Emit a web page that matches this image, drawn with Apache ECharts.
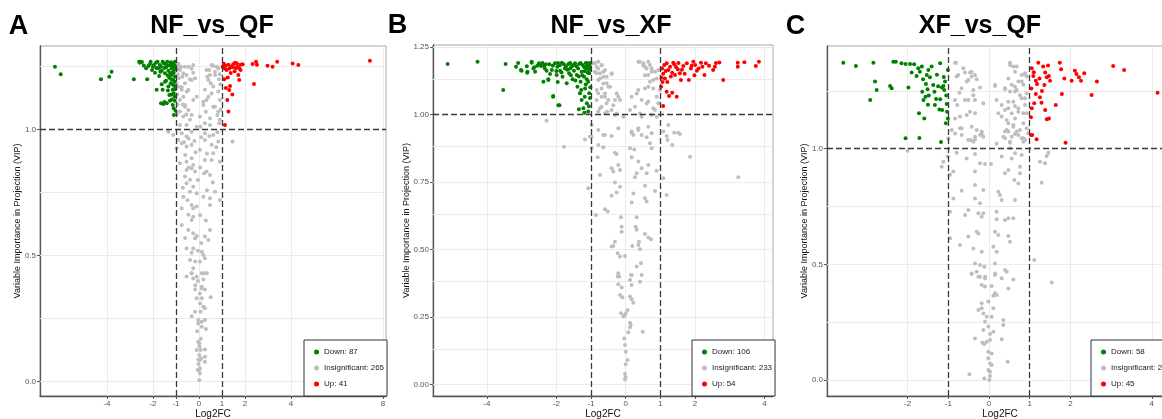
<!DOCTYPE html>
<html><head><meta charset="utf-8">
<script src="https://cdn.jsdelivr.net/npm/echarts@6/dist/echarts.min.js"></script>
<style>html,body{margin:0;padding:0;background:#fff}#c{width:1162px;height:419px}</style>
</head><body><div id="c"></div>
<script>
// ---------- DATA ----------
const titles = ['NF_vs_QF', 'NF_vs_XF', 'XF_vs_QF'];
const panelLetters = ['A', 'B', 'C'];
const downCounts = [87, 106, 58];
const insigCounts = [265, 233, 290];
const upCounts = [41, 54, 45];
const xAxisTitle = 'Log2FC';
const yAxisTitle = 'Variable Importance in Projection (VIP)';

const xTicksA = [-4, -2, -1, 0, 1, 2, 4, 8];
const xTicksB = [-4, -2, -1, 0, 1, 2, 4];
const xTicksC = [-2, -1, 0, 1, 2, 4];
const yTicksA = [0, 0.5, 1];
const yTicksB = [0, 0.25, 0.5, 0.75, 1, 1.25];
const yTicksC = [0, 0.5, 1];
const xGridA = [-4, -2, 0, 2, 4, 8];
const xGridB = [-4, -2, 0, 2, 4];
const xGridC = [-4, -2, 0, 2, 4];
const yGridA = [0, 0.25, 0.5, 0.75, 1.25];
const yGridB = [0, 0.125, 0.25, 0.375, 0.5, 0.625, 0.75, 0.875, 1.125, 1.25];
const yGridC = [0, 0.25, 0.5, 0.75, 1.25];
const fcThresholds = [-1, 1];
const vipThreshold = [1];

const downA = [[-6.26,1.25],[-6.01,1.22],[-4.26,1.20],[-3.90,1.21],[-3.80,1.23],[-2.83,1.20],[-2.60,1.27],[-2.55,1.27],
[-2.57,1.266],[-2.48,1.269],[-2.30,1.244],[-2.20,1.253],[-2.25,1.20],[-2.13,1.261],[-2.04,1.237],[-1.96,1.257],[-1.91,1.226],[-1.87,1.266],[-1.84,1.158],[-1.77,1.244],[-1.73,1.213],[-1.70,1.257],[-1.62,1.234],[-1.58,1.158],[-1.55,1.102],[-1.52,1.263],[-1.48,1.224],[-1.43,1.248],[-1.43,1.194],[-1.40,1.105],[-1.38,1.27],[-1.33,1.234],[-1.33,1.171],[-1.29,1.206],[-1.29,1.138],[-1.26,1.257],[-1.26,1.115],[-1.23,1.184],[-1.19,1.244],[-1.19,1.217],[-1.14,1.263],[-1.14,1.158],[-1.14,1.098],[-1.12,1.230],[-1.12,1.197],[-1.09,1.25],[-1.09,1.058],[-1.07,1.173],[-1.06,1.131],[-1.04,1.21],[-1.04,1.27],[-1.08,1.24],
[-2.40,1.255],[-2.10,1.27],[-1.80,1.27],[-1.65,1.25],[-1.58,1.27],[-1.45,1.262],[-1.35,1.255],[-1.22,1.268],[-1.17,1.25],[-1.05,1.255],[-1.02,1.24],[-1.10,1.225],[-1.25,1.225],[-1.50,1.245],[-1.68,1.23],[-1.85,1.245],[-2.0,1.25],[-1.36,1.215],[-1.20,1.20],[-1.05,1.19],[-1.16,1.18],[-1.03,1.16],[-1.10,1.145],[-1.20,1.14],[-1.35,1.155],[-1.48,1.19],[-1.62,1.18],[-1.05,1.115],[-1.18,1.12],[-1.50,1.11],[-1.65,1.105],[-1.10,1.085],[-1.02,1.075]];

const upA = [[1.03,1.25],[1.13,1.243],[1.20,1.237],[1.32,1.243],[1.39,1.25],[1.49,1.26],[1.57,1.266],[1.64,1.264],[1.67,1.25],[1.75,1.243],[1.81,1.237],[1.90,1.26],[1.71,1.217],[1.75,1.197],[1.25,1.207],[1.35,1.173],[1.32,1.157],[1.45,1.14],[1.23,1.118],[1.28,1.072],[1.13,1.019],
[1.08,1.262],[1.15,1.255],[1.28,1.258],[1.45,1.248],[1.60,1.245],[1.80,1.258],[1.55,1.232],[1.38,1.225],[1.10,1.20],[1.17,1.165],
[2.39,1.181],[2.33,1.261],[2.48,1.27],[2.98,1.254],[3.2,1.25],[3.4,1.27],[4.07,1.263],[4.32,1.257],[7.43,1.273],[2.52,1.258]];

const insigA = [
[-0.90,1.257],[-0.83,1.237],[-0.61,1.25],[-0.54,1.217],[-0.32,1.243],[-0.25,1.226],[-0.17,1.204],[-0.97,1.184],[-0.75,1.168],[-0.46,1.157],[-0.68,1.131],[-0.25,1.118],[-0.10,1.131],[-0.61,1.091],[-0.83,1.072],[-0.32,1.058],[0.04,1.052],[0.19,1.098],[0.33,1.118],[0.55,1.144],[0.62,1.171],[0.41,1.197],[0.48,1.217],[0.70,1.230],[0.77,1.25],[0.84,1.243],[0.62,1.253],[0.33,1.237],[0.70,1.091],[0.84,1.072],[0.91,1.039],[0.26,1.025],[0.48,1.019],[-0.10,1.012],[-0.54,1.019],
[-0.9,1.263],[-0.83,1.244],[-0.68,1.224],[-0.87,1.204],[-0.61,1.184],[-0.75,1.158],[-0.53,1.151],[-0.83,1.118],[-0.61,1.098],[-0.46,1.078],[-0.68,1.052],[-0.39,1.039],[-0.83,1.019],[-0.25,1.257],[-0.32,1.197],[0.55,1.257],[0.45,1.237],[0.36,1.21],[0.51,1.184],[0.26,1.158],[0.41,1.131],[0.19,1.111],[0.62,1.091],[0.30,1.071],[0.80,1.058],[0.48,1.045],[0.88,1.025],[0.07,1.012],[0.70,1.217],[0.84,1.151],[0.91,1.118],
[-0.95,1.24],[-0.92,1.22],[-0.88,1.17],[-0.95,1.14],[-0.93,1.10],[-0.96,1.06],[-0.72,1.21],[-0.78,1.25],[-0.70,1.10],[-0.55,1.06],[-0.40,1.20],[-0.45,1.25],[0.90,1.22],[0.93,1.18],[0.87,1.20],[0.95,1.08],
[-1.33,0.992],[-1.12,0.979],[-0.75,0.986],[-0.54,0.973],[-0.32,0.992],[0.26,0.986],[0.62,0.979],[-0.75,0.946],[-0.97,0.926],[-0.54,0.933],[-0.32,0.940],[0.04,0.920],[0.26,0.959],[0.55,0.940],[0.84,0.953],[1.46,0.953],[0.62,0.906],[0.55,0.880],[0.26,0.880],[-0.32,0.887],[-0.54,0.873],[-0.83,0.867],[-0.25,0.860],[-0.32,0.847],[-0.54,0.840],[-0.17,0.834],[0.33,0.834],[0.48,0.820],[0.22,0.827],[0.91,0.873],[-0.61,0.814],[-0.39,0.801],[-0.54,0.787],[-0.25,0.774],[-0.39,0.754],[-0.10,0.748],[0.70,0.754],[-0.68,0.734],[0.19,0.734],[0.48,0.728],[0.91,0.721],[-0.32,0.701],[-0.25,0.688],[-0.75,0.688],[-0.10,0.695],[0.48,0.701],[-0.46,0.662],[-0.25,0.655],[-0.32,0.642],[-0.75,0.622],[-0.46,0.602],[-0.25,0.589],[-0.10,0.578],[0.48,0.602],[-0.17,0.569],[0.26,0.576],[0.41,0.562],[-0.54,0.529],[-0.25,0.529],[-0.32,0.512],[0.12,0.516],[0.19,0.503],[0.26,0.490],[-0.39,0.483],[-0.17,0.477],[0.04,0.477],[-0.25,0.450],[-0.32,0.430],[0.19,0.430],[0.33,0.430],[-0.54,0.417],[-0.10,0.417],
[-0.90,0.96],[-0.65,0.95],[-0.45,0.965],[-0.20,0.955],[0.10,0.97],[0.45,0.975],[0.80,0.99],[-0.60,0.90],[-0.15,0.91],[0.35,0.905],[0.75,0.93],[-0.45,0.85],[0.05,0.85],[0.60,0.79],[-0.05,0.80],[-0.70,0.77],[0.35,0.76],[-0.50,0.72],[0.05,0.66],[0.30,0.64],[-0.60,0.57],[0.10,0.55],[-0.05,0.52],
[-0.25,0.410],[0.19,0.406],[-0.16,0.383],[0.12,0.377],[-0.17,0.366],[0.12,0.370],[0.26,0.366],[0.04,0.350],[-0.10,0.331],[0.12,0.331],[0.51,0.335],[0.19,0.297],[0.26,0.291],[0.07,0.278],[-0.17,0.278],[-0.32,0.26],[-0.03,0.245],[0.26,0.245],[0.12,0.238],[-0.03,0.231],[0.12,0.218],[0.30,0.209],[-0.03,0.159],[0.015,0.152],[0.07,0.126],[-0.10,0.126],[0.26,0.128],[0.015,0.106],[0.09,0.092],[-0.03,0.088],[0.26,0.099],[0.04,0.086],[0.26,0.079],[0.04,0.053],[-0.06,0.046],[0.0,0.044],[0.04,0.033],[0.015,0.006],
[-0.32,0.43],[0.12,0.43],[0.33,0.43],[-0.05,0.40],[0.05,0.31],[-0.08,0.20],[0.08,0.17],[0.02,0.14],[-0.02,0.07]];

const downB = [[-5.13,1.186],[-4.27,1.195],[-3.53,1.09],[-3.46,1.186],[-3.16,1.176],[-3.02,1.164],[-2.83,1.158],[-2.71,1.195],[-2.66,1.170],[-2.50,1.189],[-2.44,1.179],[-2.33,1.170],[-2.28,1.161],[-2.23,1.127],[-2.09,1.065],[-1.94,1.034],
[-3.0,1.161],[-2.84,1.154],[-2.71,1.191],[-2.64,1.174],[-2.61,1.158],[-2.49,1.186],[-2.37,1.121],[-2.35,1.179],[-2.23,1.13],[-2.18,1.149],[-2.13,1.164],[-2.09,1.068],[-2.04,1.189],[-1.99,1.146],[-1.97,1.176],[-1.91,1.034],[-1.89,1.161],[-1.84,1.191],[-1.82,1.139],[-1.75,1.170],[-1.70,1.115],[-1.65,1.186],[-1.63,1.152],[-1.56,1.176],[-1.53,1.13],[-1.49,1.161],[-1.46,1.189],[-1.41,1.146],[-1.39,1.102],[-1.37,1.170],[-1.34,1.186],[-1.32,1.078],[-1.30,1.121],[-1.27,1.158],[-1.27,1.053],[-1.24,1.183],[-1.22,1.022],[-1.20,1.139],[-1.17,1.096],[-1.14,1.170],[-1.12,1.041],[-1.10,1.189],[-1.08,1.121],[-1.08,1.010],[-1.05,1.152],[-1.05,1.078],[-1.03,1.176],
[-1.35,1.019],[-1.19,1.006],
[-2.55,1.18],[-2.40,1.19],[-2.20,1.185],[-2.10,1.18],[-1.95,1.19],[-1.90,1.182],[-1.78,1.185],[-1.72,1.178],[-1.60,1.19],[-1.52,1.182],[-1.42,1.178],[-1.30,1.19],[-1.20,1.175],[-1.15,1.19],[-1.06,1.185],[-1.02,1.19],[-1.04,1.165],[-1.10,1.155],[-1.18,1.16],[-1.25,1.145],[-1.35,1.14],[-1.45,1.125],[-1.58,1.145],[-1.68,1.165],[-1.85,1.155],[-2.0,1.16],[-1.12,1.13],[-1.02,1.10],[-1.15,1.11],[-1.03,1.06],[-1.18,1.065],[-1.06,1.03],[-1.28,1.09],[-1.60,1.17],[-2.30,1.185],[-2.85,1.178],[-3.10,1.19],[-1.96,1.12],[-1.08,1.17],[-1.12,1.18]];

const upB = [[1.11,1.183],[1.18,1.189],[1.23,1.164],[1.28,1.176],[1.34,1.154],[1.37,1.191],[1.42,1.146],[1.50,1.167],[1.56,1.152],[1.59,1.127],[1.66,1.179],[1.76,1.189],[1.82,1.127],[1.88,1.170],[1.95,1.195],[2.00,1.183],[2.05,1.161],[2.17,1.191],[2.21,1.176],[2.27,1.146],[2.31,1.189],[2.52,1.164],[2.57,1.176],[2.70,1.192],[2.81,1.127],[3.23,1.191],[3.23,1.176],[3.42,1.193],[3.75,1.179],[3.84,1.195],[1.02,1.102],[1.18,1.084],[1.25,1.068],[1.34,1.080],[1.47,1.065],[1.08,1.031],[1.13,1.133],[1.20,1.12],
[1.05,1.17],[1.08,1.15],[1.03,1.135],[1.15,1.16],[1.30,1.14],[1.45,1.175],[1.62,1.165],[1.70,1.15],[1.90,1.18],[2.10,1.17],[2.40,1.18],[2.60,1.19],[1.40,1.185],[1.06,1.12],[1.52,1.19],[1.98,1.145]];

const insigB = [
[-0.933,1.189],[-0.789,1.195],[-0.837,1.176],[-0.693,1.183],[-0.885,1.158],[-0.741,1.152],[-0.597,1.164],[-0.645,1.139],[-0.405,1.152],[-0.789,1.127],[-0.549,1.115],[-0.693,1.096],[-0.501,1.102],[-0.789,1.078],[-0.597,1.065],[-0.309,1.053],[-0.837,1.053],[-0.549,1.041],[-0.213,1.065],[-0.693,1.028],[-0.405,1.016],[-0.597,1.004],[-0.789,1.010],[-0.309,0.997],[0.364,1.195],[0.508,1.189],[0.652,1.195],[0.700,1.183],[0.556,1.176],[0.748,1.170],[0.844,1.158],[0.652,1.146],[0.892,1.133],[0.700,1.121],[0.364,1.090],[0.556,1.096],[0.171,1.065],[0.796,1.096],[0.460,1.053],[0.652,1.047],[0.940,1.041],[0.268,1.028],[0.844,1.016],[0.124,1.016],[0.748,0.997],[0.460,0.991],
[-0.885,1.189],[-0.789,1.170],[-0.692,1.182],[-0.837,1.152],[-0.644,1.158],[-0.740,1.133],[-0.548,1.139],[-0.404,1.149],[-0.644,1.114],[-0.452,1.102],[-0.837,1.090],[-0.596,1.077],[-0.692,1.065],[-0.260,1.077],[-0.500,1.053],[-0.164,1.053],[-0.356,1.034],[-0.740,1.022],[-0.529,1.010],[-0.260,1.003],[-0.068,0.991],[0.316,1.077],[0.400,1.195],[0.508,1.182],[0.604,1.170],[0.556,1.145],[0.748,1.158],[0.796,1.127],[0.652,1.102],[0.892,1.065],[0.604,1.040],[0.796,1.022],[0.412,1.003],[0.892,0.991],[0.989,1.090],[0.940,1.164],
[-1.173,0.907],[-0.981,0.917],[-0.597,0.923],[-0.405,0.920],[0.171,0.932],[0.220,0.923],[0.364,0.942],[0.604,0.915],[0.700,0.893],[0.748,0.874],[1.180,0.920],[1.209,0.905],[1.343,0.886],[1.401,0.932],[1.564,0.927],[1.853,0.843],[3.246,0.767],[-1.78,0.880],[-0.981,0.874],[-0.789,0.886],[-0.645,0.878],[-0.808,0.841],[-0.309,0.858],[-0.261,0.853],[0.124,0.874],[0.248,0.870],[0.171,0.841],[-0.741,0.775],[-0.405,0.800],[-0.357,0.788],[-0.213,0.812],[-0.164,0.794],[0.364,0.825],[0.460,0.800],[0.652,0.812],[0.316,0.782],[0.268,0.767],[0.604,0.782],[0.892,0.791],[1.084,0.763],[-1.077,0.726],[-0.309,0.747],[-0.164,0.732],[-0.405,0.698],[-0.261,0.710],[0.220,0.707],[0.171,0.673],[0.556,0.735],[0.844,0.716],[0.556,0.689],[0.604,0.677],[1.180,0.701],[-0.597,0.648],[-0.520,0.640],[-0.856,0.627],[-0.136,0.619],[-0.116,0.584],[-0.116,0.565],[0.316,0.619],[0.287,0.584],[0.316,0.572],[0.383,0.528],[0.556,0.557],[0.652,0.544],[0.729,0.537],[0.364,0.516],[0.191,0.512],[-0.309,0.528],[-0.357,0.512],[-0.405,0.510],[-0.232,0.485],[-0.164,0.473],[-0.020,0.475],[0.412,0.500],
[0.316,0.436],[0.441,0.448],[-0.184,0.399],[0.171,0.405],
[-2.28,0.976],[-0.98,0.960],[-0.789,0.942],[-0.213,0.948],[0.171,0.936],[0.364,0.948],[0.652,0.954],[0.748,0.930],[1.228,0.960],[1.516,0.932],[1.084,0.936],[-1.03,0.917],[-0.645,0.923],[0.460,0.923],
[-0.213,0.411],[-0.232,0.399],[0.153,0.405],[0.460,0.405],[0.124,0.386],[0.171,0.368],[-0.213,0.371],[-0.116,0.359],[0.412,0.380],[-0.164,0.331],[-0.097,0.322],[0.124,0.325],[0.171,0.315],[0.220,0.302],[0.056,0.275],[-0.136,0.263],[0.0,0.263],[-0.068,0.251],[-0.020,0.257],[0.124,0.228],[0.143,0.220],[0.124,0.211],[0.076,0.193],[0.489,0.195],[-0.040,0.170],[-0.020,0.146],[0.0,0.121],[0.056,0.090],[0.0,0.074],[-0.020,0.038],[0.0,0.026],[-0.020,0.018]];

const downC = [[-3.58,1.372],[-3.27,1.358],[-2.84,1.372],[-2.80,1.290],[-2.76,1.254],[-2.92,1.211],[-2.43,1.271],[-2.39,1.261],[-2.35,1.376],[-2.29,1.376],[-2.15,1.369],[-2.05,1.366],[-1.98,1.265],[-1.94,1.366],[-1.90,1.329],[-1.78,1.314],[-1.74,1.348],[-1.70,1.333],[-1.72,1.153],[-1.64,1.246],[-1.61,1.211],[-1.59,1.131],[-1.56,1.225],[-1.53,1.319],[-1.51,1.257],[-1.49,1.340],[-1.45,1.309],[-1.41,1.355],[-1.37,1.275],[-1.34,1.246],[-1.33,1.189],[-1.20,1.369],[-1.20,1.214],[-1.16,1.265],[-1.12,1.271],[-1.15,1.167],[-1.10,1.254],[-1.06,1.110],[-1.04,1.193],[-1.01,1.340],[-1.01,1.131],[-2.05,1.045],[-1.71,1.046],[-1.18,1.029],
[-1.84,1.365],[-1.62,1.30],[-1.55,1.28],[-1.48,1.23],[-1.25,1.27],[-1.08,1.29],[-1.05,1.23],[-1.30,1.215],[-1.03,1.16],[-1.22,1.17],[-1.65,1.355],[-1.28,1.32],[-1.11,1.31],[-1.50,1.19]];

const upC = [[1.21,1.372],[1.33,1.355],[1.05,1.348],[1.09,1.314],[1.15,1.294],[1.24,1.304],[1.38,1.329],[1.42,1.309],[1.47,1.314],[1.50,1.294],[1.36,1.275],[1.74,1.372],[1.77,1.343],[1.85,1.304],[2.03,1.294],[2.11,1.337],[2.15,1.323],[2.21,1.309],[2.26,1.294],[2.34,1.326],[2.65,1.290],[3.05,1.358],[3.32,1.340],[4.14,1.242],[1.79,1.237],[2.52,1.232],[1.64,1.189],[1.15,1.237],[1.25,1.222],[1.11,1.196],[1.29,1.199],[1.05,1.175],[1.38,1.167],[1.42,1.127],[1.47,1.131],[1.03,1.136],[1.03,1.059],[1.06,1.059],[1.17,1.041],[1.88,1.026],
[1.10,1.33],[1.18,1.28],[1.30,1.25],[1.04,1.26],[1.45,1.36]];

const insigC = [
[-0.835,1.372],[-0.631,1.348],[-0.426,1.333],[-0.344,1.319],[-0.795,1.312],[-0.508,1.297],[-0.672,1.261],[-0.385,1.254],[-0.221,1.265],[-0.835,1.211],[-0.590,1.211],[-0.139,1.196],[-0.344,1.211],[-0.549,1.146],[-0.344,1.153],[-0.835,1.131],[-0.672,1.088],[-0.426,1.095],[-0.344,1.052],[-0.180,1.074],[0.516,1.372],[0.598,1.355],[0.639,1.333],[0.803,1.319],[0.885,1.323],[0.475,1.304],[0.721,1.290],[0.557,1.276],[0.844,1.276],[0.147,1.271],[0.393,1.257],[0.639,1.247],[0.925,1.240],[0.803,1.218],[0.188,1.211],[0.475,1.203],[0.639,1.185],[0.885,1.189],[0.393,1.167],[0.721,1.160],[0.557,1.153],[0.925,1.153],[0.311,1.139],[0.639,1.131],[0.475,1.110],[0.844,1.110],[0.598,1.095],[0.762,1.081],[0.393,1.074],[0.966,1.067],[0.557,1.052],[0.844,1.045],
[-0.811,1.372],[-0.754,1.319],[-0.590,1.329],[-0.467,1.329],[-0.426,1.312],[-0.549,1.290],[-0.729,1.242],[-0.303,1.300],[-0.778,1.189],[-0.508,1.211],[-0.385,1.231],[-0.713,1.139],[-0.467,1.160],[-0.917,1.081],[-0.713,1.088],[-0.303,1.081],[-0.451,1.038],[-0.385,1.030],[-0.221,1.059],[-0.140,1.052],[0.516,1.362],[0.680,1.355],[0.884,1.326],[0.925,1.312],[0.802,1.290],[0.639,1.268],[0.147,1.275],[0.393,1.261],[0.516,1.247],[0.680,1.254],[0.761,1.231],[0.884,1.218],[0.311,1.189],[0.475,1.175],[0.598,1.203],[0.720,1.175],[0.843,1.153],[0.229,1.153],[0.434,1.124],[0.598,1.102],[0.925,1.088],[0.434,1.081],[0.680,1.074],[0.352,1.052],[0.884,1.038],[0.516,1.026],[0.720,1.059],
[-2.0,0.991],[-1.163,0.922],[-1.122,0.944],[-1.016,0.966],[-1.0,1.045],[-0.835,1.066],[-0.672,1.059],[-0.508,1.038],[-0.344,1.040],[-0.180,1.066],[-0.795,0.983],[-0.549,0.958],[-0.344,0.977],[-0.221,0.937],[-0.098,0.934],[0.049,0.934],[-0.344,0.901],[-0.876,0.901],[-0.958,0.887],[0.475,1.074],[0.639,1.064],[0.393,1.045],[0.516,1.030],[0.803,1.045],[0.844,1.030],[0.188,1.023],[0.516,1.002],[0.639,0.980],[0.803,0.973],[0.311,0.966],[0.557,0.958],[0.762,0.922],[0.475,0.908],[0.393,0.894],[0.762,0.894],[0.622,0.865],[0.721,0.850],[-0.344,0.843],[-0.139,0.821],[-0.672,0.818],[0.229,0.814],[0.270,0.800],[0.311,0.778],[0.639,0.778],[-0.876,0.785],[-0.344,0.785],[-0.221,0.764],[-0.508,0.735],[-0.262,0.721],[-0.180,0.706],[-0.139,0.721],[-0.590,0.713],[0.188,0.728],[0.475,0.699],[0.598,0.699],[0.393,0.692],[0.188,0.695],[-0.958,0.728],[-0.303,0.641],[-0.262,0.634],[0.147,0.641],[0.229,0.627],[0.475,0.623],[0.516,0.598],[-0.508,0.620],[-0.713,0.584],[-0.385,0.569],[0.106,0.576],[0.188,0.555],[-0.180,0.555],[-0.958,0.613],[1.253,0.944],[1.376,0.937],[1.458,0.983],[1.417,0.969],[1.294,0.853],[1.114,0.519],[-0.344,0.504],[-0.221,0.497],[-0.115,0.490],[0.147,0.504],[-0.426,0.461],[-0.262,0.447],[-0.098,0.447],[0.147,0.461],[0.393,0.476],
[-0.426,0.458],[-0.303,0.468],[-0.221,0.447],[-0.098,0.440],[0.147,0.454],[0.311,0.440],[0.434,0.468],[0.598,0.435],[-0.180,0.411],[-0.098,0.404],[0.066,0.406],[0.475,0.396],[0.147,0.375],[0.106,0.364],[0.188,0.368],[-0.180,0.332],[-0.016,0.339],[-0.262,0.303],[-0.180,0.310],[0.106,0.310],[-0.139,0.288],[-0.057,0.274],[-0.098,0.252],[0.066,0.274],[0.352,0.259],[0.352,0.238],[-0.016,0.231],[-0.139,0.216],[0.106,0.209],[0.025,0.199],[-0.344,0.180],[-0.057,0.166],[0.025,0.173],[-0.164,0.161],[-0.115,0.156],[0.311,0.176],[-0.016,0.122],[0.066,0.115],[-0.016,0.094],[0.025,0.072],[0.066,0.065],[0.459,0.079],[-0.016,0.043],[0.025,0.036],[-0.483,0.025],[-0.115,0.007],[0.008,0.0],[0.025,0.017],[1.54,0.422]];

// ---------- LAYOUT / STYLE ----------
const panels = [
  {grid:{left:40, top:46, width:346, height:350}, xr:[-6.91,8.13], yr:[-0.0567,1.332], xt:xTicksA, yt:yTicksA, xg:xGridA, yg:yGridA, yDec:1, yGap:18,
   down:downA, up:upA, insig:insigA, title:{x:212,y:26}, letter:{x:18.5,y:27}, legend:{left:304, top:340}},
  {grid:{left:433, top:45, width:340, height:351}, xr:[-5.553,4.245], yr:[-0.0433,1.2567], xt:xTicksB, yt:yTicksB, xg:xGridB, yg:yGridB, yDec:2, yGap:22,
   down:downB, up:upB, insig:insigB, title:{x:611,y:26}, letter:{x:397.5,y:26}, legend:{left:692, top:340}},
  {grid:{left:827, top:46, width:346, height:350}, xr:[-3.98,4.52], yr:[-0.069,1.444], xt:xTicksC, yt:yTicksC, xg:xGridC, yg:yGridC, yDec:1, yGap:18,
   down:downC, up:upC, insig:insigC, title:{x:980,y:26}, letter:{x:795.5,y:27}, legend:{left:1091, top:340}}
];
const FONT = '"Liberation Sans", Arial, sans-serif';
const COL_DOWN = '#008000', COL_UP = '#ff0000', COL_INS = '#bebebe';

const option = {
  animation: false,
  backgroundColor: '#ffffff',
  textStyle: {fontFamily: FONT},
  grid: [], xAxis: [], yAxis: [], series: [], legend: [], graphic: []
};

panels.forEach((p, i) => {
  option.grid.push(Object.assign({show:true, borderColor:'#a6a6a6', borderWidth:1, backgroundColor:'#fff',
    containLabel:false, outerBoundsMode:'none'}, p.grid));
  option.xAxis.push({
    type:'value', gridIndex:i, min:p.xr[0], max:p.xr[1],
    axisLine:{show:true, onZero:false, lineStyle:{color:'#555', width:1.3}},
    axisTick:{show:true, length:3, customValues:p.xt, lineStyle:{color:'#555'}},
    axisLabel:{customValues:p.xt, fontSize:8, color:'#555', margin:4, hideOverlap:false, formatter:v => String(v)},
    splitLine:{show:false},
    name:xAxisTitle, nameLocation:'middle', nameGap:13, nameMoveOverlap:false,
    nameTextStyle:{fontSize:10, color:'#111', fontFamily:FONT}
  });
  option.yAxis.push({
    type:'value', gridIndex:i, min:p.yr[0], max:p.yr[1],
    axisLine:{show:true, onZero:false, lineStyle:{color:'#555', width:1.3}},
    axisTick:{show:true, length:3, customValues:p.yt, lineStyle:{color:'#555'}},
    axisLabel:{customValues:p.yt, fontSize:8, color:'#555', margin:4, hideOverlap:false, formatter:v => v.toFixed(p.yDec)},
    splitLine:{show:false},
    name:yAxisTitle, nameLocation:'middle', nameGap:p.yGap, nameRotate:90, nameMoveOverlap:false,
    nameTextStyle:{fontSize:9, color:'#111', fontFamily:FONT}
  });
  // gridlines (behind points)
  option.series.push({
    type:'scatter', xAxisIndex:i, yAxisIndex:i, data:[], silent:true, z:1,
    markLine:{silent:true, z:1, symbol:['none','none'], label:{show:false}, animation:false,
      lineStyle:{color:'#ebebeb', width:1, type:'solid'},
      data:[...p.xg.map(v => ({xAxis:v})), ...p.yg.map(v => ({yAxis:v}))]}
  });
  const names = ['Down: ' + downCounts[i], 'Insignificant: ' + insigCounts[i], 'Up: ' + upCounts[i]];
  const mk = (name, data, color, z) => ({
    type:'scatter', name, xAxisIndex:i, yAxisIndex:i, data, symbol:'circle', symbolSize:4, z,
    itemStyle:{color, opacity:1}, emphasis:{disabled:true}
  });
  option.series.push(mk(names[1], p.insig, COL_INS, 2));
  option.series.push(mk(names[0], p.down, COL_DOWN, 3));
  option.series.push(mk(names[2], p.up, COL_UP, 3));
  // threshold lines
  option.series.push({
    type:'scatter', xAxisIndex:i, yAxisIndex:i, data:[], silent:true, z:4,
    markLine:{silent:true, z:4, symbol:['none','none'], label:{show:false}, animation:false,
      lineStyle:{color:'#3a3a3a', width:1.3, type:[6,3]},
      data:[...fcThresholds.map(v => ({xAxis:v})), ...vipThreshold.map(v => ({yAxis:v}))]}
  });
  option.legend.push({
    data:names, orient:'vertical', left:p.legend.left, top:p.legend.top,
    padding:[7,3,7,10], itemGap:6, itemWidth:5, itemHeight:5, icon:'circle',
    borderColor:'#333', borderWidth:1, backgroundColor:'#fff', selectedMode:false,
    textStyle:{fontSize:8, lineHeight:10, color:'#222', fontFamily:FONT}, z:10
  });
  option.graphic.push({type:'text', x:p.title.x, y:p.title.y, silent:true,
    style:{text:titles[i], font:'bold 25px ' + FONT, fill:'#000', align:'center', verticalAlign:'middle', textAlign:'center', textVerticalAlign:'middle'}});
  option.graphic.push({type:'text', x:p.letter.x, y:p.letter.y, silent:true,
    style:{text:panelLetters[i], font:'bold 27px ' + FONT, fill:'#000', align:'center', verticalAlign:'middle', textAlign:'center', textVerticalAlign:'middle'}});
});

const chart = echarts.init(document.getElementById('c'), null, {renderer:'canvas'});
chart.setOption(option);
</script>
</body></html>
